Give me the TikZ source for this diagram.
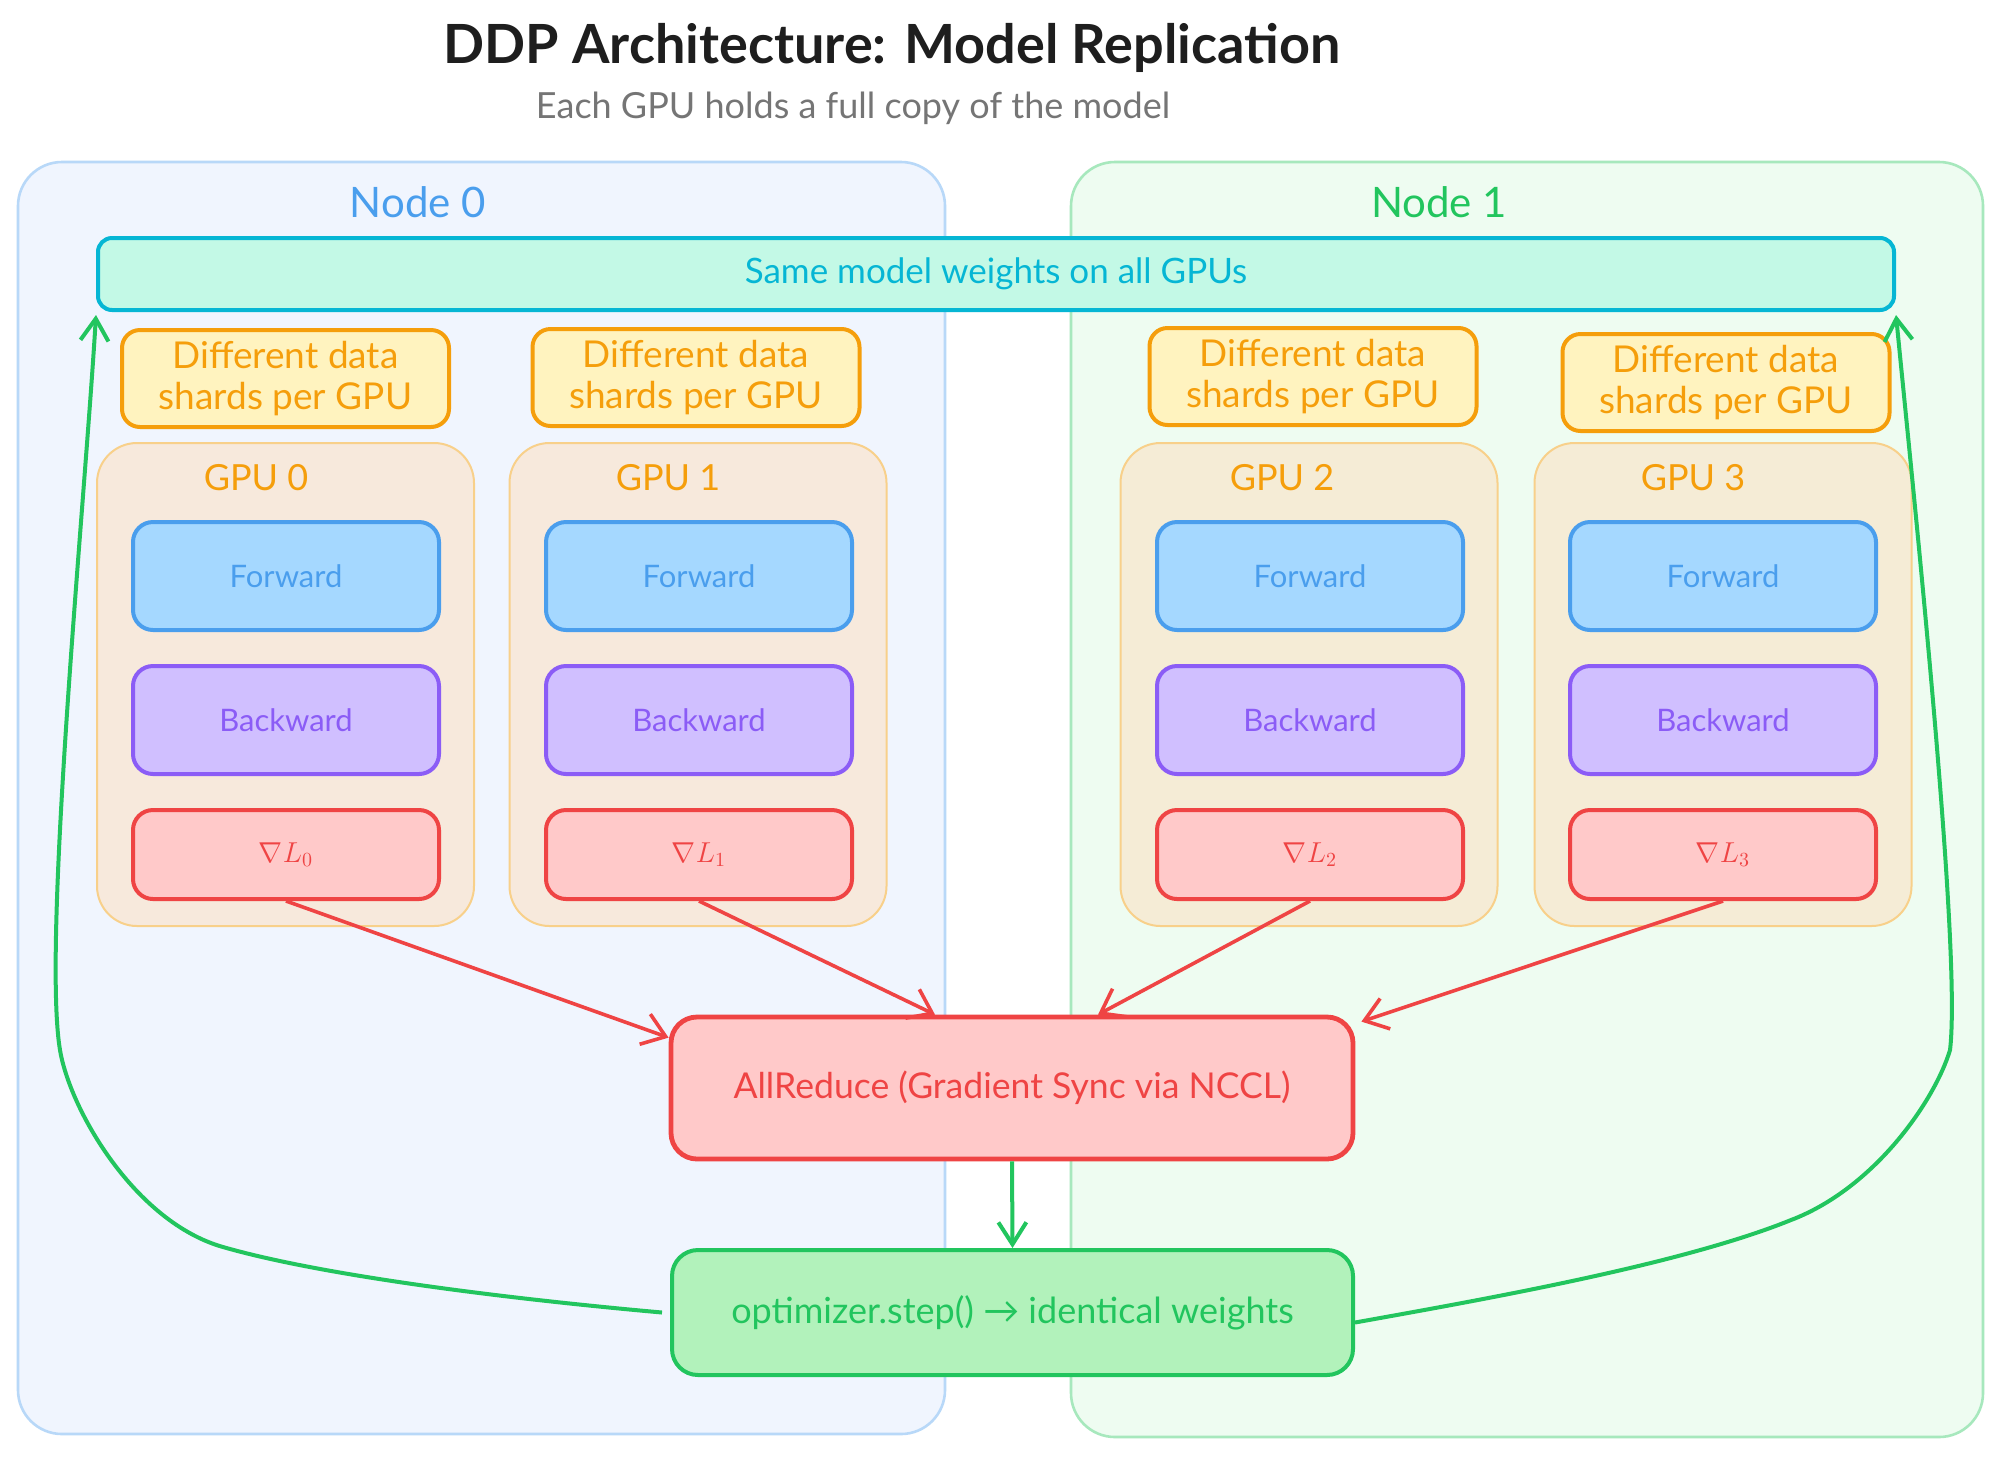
\documentclass[tikz,border=0pt]{standalone}
\usepackage{fontspec}
\setmainfont{Lato}
\usetikzlibrary{arrows.meta,calc}
\definecolor{titlec}{HTML}{1E1E1E}
\definecolor{subc}{HTML}{757575}
\definecolor{nzfill}{HTML}{F0F5FE}
\definecolor{nzdraw}{HTML}{B8D8F8}
\definecolor{nofill}{HTML}{EEFCF1}
\definecolor{nodraw}{HTML}{A7E8BD}
\definecolor{bluec}{HTML}{4A9EED}
\definecolor{greenc}{HTML}{22C55E}
\definecolor{wtfill}{HTML}{C3F9E6}
\definecolor{wtdraw}{HTML}{06B6D4}
\definecolor{shfill}{HTML}{FFF3BF}
\definecolor{orangec}{HTML}{F59E0B}
\definecolor{gpufillA}{HTML}{F7E9DC}
\definecolor{gpufillB}{HTML}{F5ECD6}
\definecolor{gpudraw}{HTML}{F8D08A}
\definecolor{fwfill}{HTML}{A5D8FF}
\definecolor{bwfill}{HTML}{D0BFFF}
\definecolor{purplec}{HTML}{8B5CF6}
\definecolor{redfill}{HTML}{FFC9C9}
\definecolor{redc}{HTML}{EF4444}
\definecolor{optfill}{HTML}{B2F2BB}
\tikzset{
  container/.style={draw, line width=1.3pt, rounded corners=22pt, inner sep=0pt},
  wtbox/.style={draw=wtdraw, fill=wtfill, line width=2pt, rounded corners=7pt,
    minimum width=898pt, minimum height=36pt, inner sep=0pt, text=wtdraw, font=\fontsize{17.5}{20}\selectfont},
  shard/.style={draw=orangec, fill=shfill, line width=2pt, rounded corners=9pt,
    minimum width=163.5pt, minimum height=48.5pt, inner sep=0pt, text=orangec,
    align=center, font=\fontsize{18.5}{20.5}\selectfont},
  gpubox/.style={draw=gpudraw, line width=1pt, rounded corners=20pt,
    minimum width=188.5pt, minimum height=241.5pt, inner sep=0pt},
  gpulbl/.style={text=orangec, font=\fontsize{18}{21}\selectfont},
  fwbox/.style={draw=bluec, fill=fwfill, line width=2pt, rounded corners=10pt,
    minimum width=153pt, minimum height=54pt, inner sep=0pt, text=bluec, font=\fontsize{15.5}{18}\selectfont},
  bwbox/.style={draw=purplec, fill=bwfill, line width=2pt, rounded corners=10pt,
    minimum width=153pt, minimum height=54pt, inner sep=0pt, text=purplec, font=\fontsize{15.5}{18}\selectfont},
  grbox/.style={draw=redc, fill=redfill, line width=2pt, rounded corners=10pt,
    minimum width=153pt, minimum height=44.5pt, inner sep=0pt, text=redc, font=\fontsize{14}{17}\selectfont},
  arbox/.style={draw=redc, fill=redfill, line width=2.4pt, rounded corners=13pt,
    minimum width=341pt, minimum height=71pt, inner sep=0pt, text=redc, font=\fontsize{17.8}{20}\selectfont},
  optbox/.style={draw=greenc, fill=optfill, line width=2pt, rounded corners=13pt,
    minimum width=340.5pt, minimum height=62.5pt, inner sep=0pt, text=greenc, font=\fontsize{18}{20}\selectfont},
  redarrow/.style={draw=redc, line width=1.8pt, -{Straight Barb[length=11pt,width=16pt,line width=1.8pt]}},
  greenarrow/.style={draw=greenc, line width=2pt, -{Straight Barb[length=11pt,width=14pt,line width=2pt]}},
}
\begin{document}
\begin{tikzpicture}
\begin{scope}[x=0.5pt,y=-0.5pt]
\useasboundingbox (0,0) rectangle (2000,1457);
\fill[white] (0,0) rectangle (2000,1457);
% title
\node[text=titlec, font=\fontsize{27}{32}\selectfont\bfseries] (title) at (892,48) {DDP Architecture: Model Replication};
\node[text=subc, font=\fontsize{18}{21}\selectfont] (subtitle) at (853,108) {Each GPU holds a full copy of the model};
% node containers
\node[container, draw=nzdraw, fill=nzfill, minimum width=463.5pt, minimum height=636pt] (n0) at (481.5,798) {};
\node[container, draw=nodraw, fill=nofill, minimum width=456pt, minimum height=637.5pt] (n1) at (1527,799.5) {};
\node[text=bluec, font=\fontsize{21}{25}\selectfont] (n0lbl) at (418,202) {Node 0};
\node[text=greenc, font=\fontsize{21}{25}\selectfont] (n1lbl) at (1439,202) {Node 1};
% weights bar
\node[wtbox] (wt) at (996,274) {Same model weights on all GPUs};
% shards
\node[shard] (s0) at (285.5,378.5) {Different data\\shards per GPU};
\node[shard] (s1) at (696,377.5) {Different data\\shards per GPU};
\node[shard] (s2) at (1313,376.5) {Different data\\shards per GPU};
\node[shard] (s3) at (1726,382.5) {Different data\\shards per GPU};
% gpu containers
\node[gpubox, fill=gpufillA] (g0) at (285.5,684.5) {};
\node[gpubox, fill=gpufillA] (g1) at (698,684.5) {};
\node[gpubox, fill=gpufillB] (g2) at (1309,684.5) {};
\node[gpubox, fill=gpufillB] (g3) at (1723,684.5) {};
\node[gpulbl] (gl0) at (256,478) {GPU 0};
\node[gpulbl] (gl1) at (668,478) {GPU 1};
\node[gpulbl] (gl2) at (1282,478) {GPU 2};
\node[gpulbl] (gl3) at (1693,478) {GPU 3};
% forward
\node[fwbox] (f0) at (286,576) {Forward};
\node[fwbox] (f1) at (699,576) {Forward};
\node[fwbox] (f2) at (1310,576) {Forward};
\node[fwbox] (f3) at (1723,576) {Forward};
% backward
\node[bwbox] (b0) at (286,720) {Backward};
\node[bwbox] (b1) at (699,720) {Backward};
\node[bwbox] (b2) at (1310,720) {Backward};
\node[bwbox] (b3) at (1723,720) {Backward};
% gradients
\node[grbox] (r0) at (286,854.5) {$\nabla L_{0}$};
\node[grbox] (r1) at (699,854.5) {$\nabla L_{1}$};
\node[grbox] (r2) at (1310,854.5) {$\nabla L_{2}$};
\node[grbox] (r3) at (1723,854.5) {$\nabla L_{3}$};
% allreduce and optimizer
\node[arbox] (ar) at (1012,1088) {AllReduce (Gradient Sync via NCCL)};
\node[optbox] (opt) at (1012.5,1312.5) {optimizer.step() \textrightarrow{} identical weights};
% red arrows
\draw[redarrow] (r0.south) -- ([yshift=-11.5pt]ar.north west);
\draw[redarrow] (r1.south) -- ([xshift=-38.5pt]ar.north);
\draw[redarrow] (r2.south) -- ([xshift=43pt]ar.north);
\draw[redarrow] (r3.south) -- ([yshift=-3.5pt, xshift=3pt]ar.north east);
% down arrow
\draw[greenarrow] (ar.south) -- (opt.north);
% loop arrows
\draw[greenarrow] ([xshift=-4pt]opt.west) .. controls (500,1298) and (320,1275) .. (223,1247)
   .. controls (135,1222) and (70,1110) .. (60,1050)
   .. controls (42,942) and (85,500) .. ([yshift=-1.5pt]wt.south west);
\draw[greenarrow] ([yshift=-5pt]opt.east) .. controls (1480,1300) and (1680,1265) .. (1791,1220)
   .. controls (1875,1188) and (1935,1100) .. (1950,1050)
   .. controls (1962,950) and (1912,480) .. ([yshift=-1.5pt]wt.south east);
\end{scope}
\end{tikzpicture}
\end{document}
